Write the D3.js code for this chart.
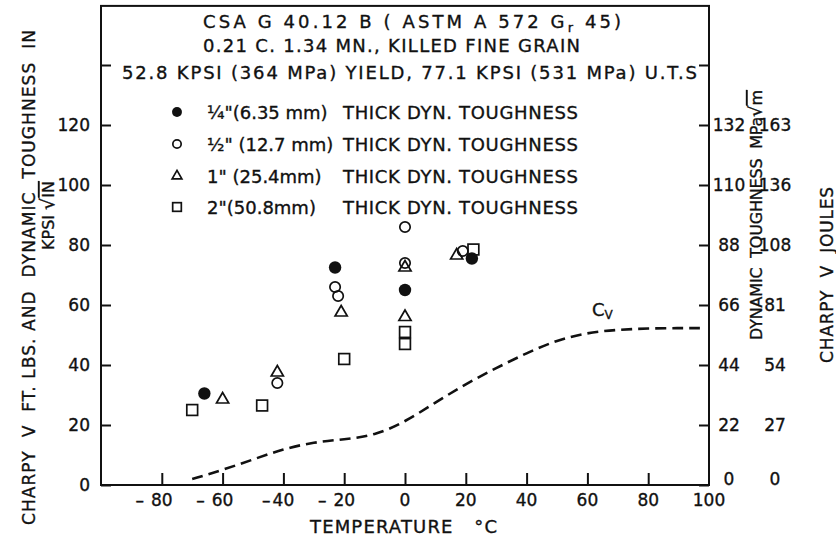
<!DOCTYPE html>
<html><head><meta charset="utf-8">
<script src="https://cdn.jsdelivr.net/npm/d3@7"></script>
<style>
body{margin:0;background:#fff}
svg{display:block}
text{font-family:"DejaVu Sans",sans-serif;fill:#111;stroke:#111;stroke-width:0.35px}
</style></head><body>
<svg id="chart" width="836" height="538"></svg>
<script>
// Dynamic toughness (ksi·√in) vs temperature, by plate thickness
const quarterTemp = [-66, -23, 0, 22];
const quarterK    = [30.5, 72.5, 65, 75.5];
const halfTemp    = [-42, -23, -22, 0, 0, 19];
const halfK       = [34, 66, 63, 86, 74, 78];
const oneTemp     = [-60, -42, -21, 0, 0, 17];
const oneK        = [28.5, 37.5, 57.5, 72.5, 56, 76.5];
const twoTemp     = [-70, -47, -20, 0, 0, 22.5];
const twoK        = [25, 26.5, 42, 51, 47, 78.5];
// Charpy V-notch energy curve (ft·lb)
const cvTemp   = [-70, -60, -50, -40, -30, -20, -10, 0, 10, 20, 30, 40, 50, 60, 70, 80, 90, 97];
const cvEnergy = [2, 5, 8.5, 12, 14.3, 15.2, 16.5, 21, 27.5, 33.7, 39, 44, 48.3, 50.8, 51.8, 52.2, 52.3, 52.3];
// Axis ticks and labels
const xTicks      = [-80, -60, -40, -20, 0, 20, 40, 60, 80, 100];
const yTicks      = [0, 20, 40, 60, 80, 100, 120, 140];
const yLabelTicks = [0, 20, 40, 60, 80, 100, 120];
const mpaLabels   = ["0", "22", "44", "66", "88", "110", "132"];
const jouleLabels = ["0", "27", "54", "81", "108", "136", "163"];
const legendSizes = ["¼\"(6.35 mm)", "½\" (12.7 mm)", "1\" (25.4mm)", "2\"(50.8mm)"];

const svg = d3.select("#chart");
const x = d3.scaleLinear().domain([-100, 100]).range([101, 709]);
const y = d3.scaleLinear().domain([0, 160]).range([485, 5]);
const ink = "#111";

// frame
svg.append("rect").attr("x", x(-100)).attr("y", y(159.7))
  .attr("width", x(100) - x(-100)).attr("height", y(0) - y(159.7))
  .attr("fill", "none").attr("stroke", ink).attr("stroke-width", 2);

function styleAxis(g) {
  g.select(".domain").remove();
  g.selectAll(".tick line").attr("stroke", ink).attr("stroke-width", 2);
  g.selectAll(".tick text").remove();
}
svg.append("g").attr("transform", `translate(0,${y(0)})`)
  .call(d3.axisBottom(x).tickValues(xTicks.slice(0, -1)).tickSize(-12)).call(styleAxis);
svg.append("g").attr("transform", `translate(${x(-100)},0)`)
  .call(d3.axisLeft(y).tickValues(yTicks).tickSize(-10)).call(styleAxis);
svg.append("g").attr("transform", `translate(${x(100)},0)`)
  .call(d3.axisRight(y).tickValues(yTicks).tickSize(-10)).call(styleAxis);

// x tick labels: digits centred on the tick, minus set off to the left
const xl = svg.append("g").attr("font-size", 17);
xTicks.forEach(t => {
  const digits = String(Math.abs(t));
  const tx = xl.append("text").attr("x", x(t)).attr("y", 506)
    .attr("text-anchor", "middle").text(digits);
  if (t < 0) {
    const w = tx.node().getComputedTextLength();
    xl.append("text").attr("x", x(t) - w / 2 - (t === -40 ? 2 : 7)).attr("y", 506)
      .attr("text-anchor", "end").text("–");
  }
});

// left tick labels
svg.append("g").attr("font-size", 17).selectAll("text").data(yLabelTicks).join("text")
  .attr("x", 90).attr("y", d => y(d) + 6).attr("text-anchor", "end").text(d => d);

// right tick labels: MPa√m and joules
svg.append("g").attr("font-size", 17).selectAll("text").data(yLabelTicks).join("text")
  .attr("x", 729).attr("y", d => y(d) + 6 - (d === 0 ? 6 : 0)).attr("text-anchor", "middle")
  .text((d, i) => mpaLabels[i]);
svg.append("g").attr("font-size", 17).selectAll("text").data(yLabelTicks).join("text")
  .attr("x", 775).attr("y", d => y(d) + 6 - (d === 0 ? 6 : 0)).attr("text-anchor", "middle")
  .text((d, i) => jouleLabels[i]);

// axis titles
svg.append("text").attr("x", 310).attr("y", 533)
  .attr("font-size", 18).attr("textLength", 187).attr("lengthAdjust", "spacing")
  .style("white-space", "pre").text("TEMPERATURE   °C");

svg.append("text").attr("transform", "translate(35,525) rotate(-90)")
  .attr("font-size", 17).attr("textLength", 495).attr("lengthAdjust", "spacing")
  .style("white-space", "pre").text("CHARPY  V  FT. LBS. AND  DYNAMIC  TOUGHNESS  IN");
const kpsi = svg.append("text").attr("transform", "translate(54,250) rotate(-90)")
  .attr("font-size", 16).style("white-space", "pre");
kpsi.append("tspan").text("KPSI ");
kpsi.append("tspan").attr("font-size", 19).text("√");
kpsi.append("tspan").style("text-decoration", "overline").text("IN");

const dyn = svg.append("text").attr("transform", "translate(762,340) rotate(-90)")
  .attr("font-size", 16).attr("textLength", 250).attr("lengthAdjust", "spacing")
  .style("white-space", "pre");
dyn.append("tspan").text("DYNAMIC  TOUGHNESS  MPa");
dyn.append("tspan").attr("font-size", 18).text("√");
dyn.append("tspan").style("text-decoration", "overline").text("m");

svg.append("text").attr("transform", "translate(833,363) rotate(-90)")
  .attr("font-size", 17).attr("textLength", 176).attr("lengthAdjust", "spacing")
  .style("white-space", "pre").text("CHARPY  V  JOULES");

// header
const hdr = svg.append("g").attr("font-size", 18).style("white-space", "pre");
const h1 = hdr.append("text").attr("x", 203).attr("y", 28)
  .attr("textLength", 418).attr("lengthAdjust", "spacing");
h1.append("tspan").text("CSA  G  40.12  B  (  ASTM  A  572  G");
h1.append("tspan").attr("font-size", 13).attr("dy", 4).text("r");
h1.append("tspan").attr("dy", -4).text("  45)");
hdr.append("text").attr("x", 203).attr("y", 52)
  .attr("textLength", 377).attr("lengthAdjust", "spacing")
  .text("0.21  C. 1.34 MN.,  KILLED  FINE  GRAIN");
hdr.append("text").attr("x", 122).attr("y", 79)
  .attr("textLength", 575).attr("lengthAdjust", "spacing")
  .text("52.8  KPSI (364 MPa) YIELD, 77.1 KPSI (531 MPa)  U.T.S");

// Cv curve
const cvLine = d3.line().x((d, i) => x(cvTemp[i])).y(d => y(d)).curve(d3.curveBasis);
svg.append("path").attr("d", cvLine(cvEnergy)).attr("fill", "none")
  .attr("stroke", ink).attr("stroke-width", 2.6).attr("stroke-dasharray", "11 6");
const cvl = svg.append("text").attr("x", 592).attr("y", 316).attr("font-size", 18);
cvl.append("tspan").text("C");
cvl.append("tspan").attr("font-size", 12).attr("dy", 3).text("V");

// markers
function marker(g, kind, cx, cy, s) {
  if (kind === 0) {
    g.append("circle").attr("cx", cx).attr("cy", cy).attr("r", 6.2 * s).attr("fill", ink);
  } else if (kind === 1) {
    g.append("circle").attr("cx", cx).attr("cy", cy).attr("r", 5.2 * s)
      .attr("fill", "none").attr("stroke", ink).attr("stroke-width", 1.7);
  } else if (kind === 2) {
    g.append("path").attr("transform", `translate(${cx},${cy})`)
      .attr("d", d3.symbol(d3.symbolTriangle, 64 * s * s)())
      .attr("fill", "none").attr("stroke", ink).attr("stroke-width", 1.7);
  } else {
    const h = 5.4 * s;
    g.append("rect").attr("x", cx - h).attr("y", cy - h).attr("width", 2 * h).attr("height", 2 * h)
      .attr("fill", "none").attr("stroke", ink).attr("stroke-width", 1.7);
  }
}
const pts = svg.append("g");
const series = [[quarterTemp, quarterK], [halfTemp, halfK], [oneTemp, oneK], [twoTemp, twoK]];
series.forEach(([ts, ks], k) => ts.forEach((t, i) => marker(pts, k, x(t), y(ks[i]), 1)));

// legend
const lg = svg.append("g").attr("font-size", 18).style("white-space", "pre");
const rowY = [112, 144, 176, 207];
legendSizes.forEach((lab, i) => {
  marker(lg, i, 177, rowY[i], 0.8);
  lg.append("text").attr("x", 207).attr("y", rowY[i] + 7).text(lab);
  lg.append("text").attr("x", 343).attr("y", rowY[i] + 7)
    .attr("textLength", 235).attr("lengthAdjust", "spacing").text("THICK  DYN.  TOUGHNESS");
});
</script>
</body></html>
